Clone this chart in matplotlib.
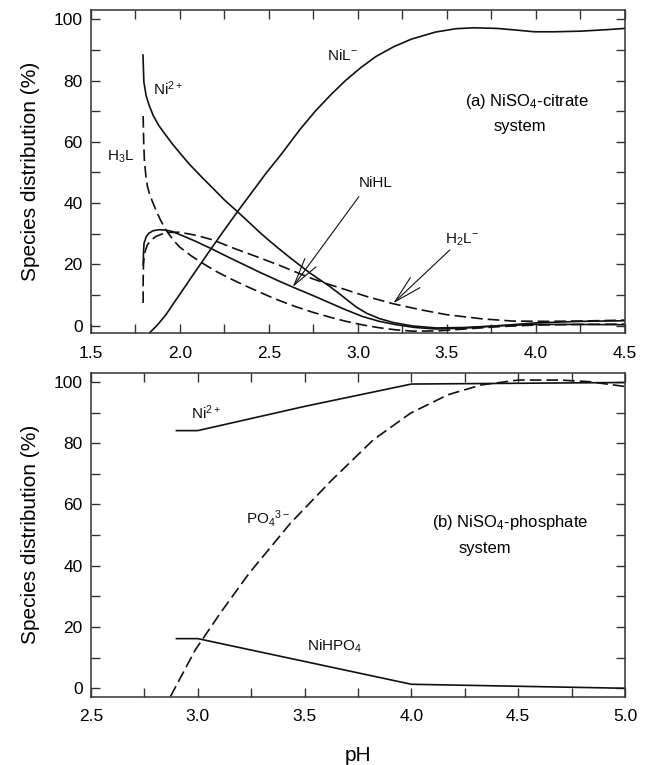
import matplotlib
matplotlib.use('Agg')
import matplotlib.pyplot as plt
from matplotlib.ticker import MultipleLocator

# ---------------- data: (a) NiSO4-citrate system ----------------
ph_ni_a = [1.792, 1.797, 1.81, 1.826, 1.85, 1.882, 1.92, 1.957, 2.0, 2.051, 2.12, 2.182,
           2.25, 2.323, 2.39, 2.445, 2.5, 2.558, 2.62, 2.68, 2.727, 2.78, 2.839, 2.9,
           2.95, 2.99, 3.05, 3.121, 3.2, 3.306, 3.44, 3.6, 3.8, 4.0, 4.25, 4.5]
ni_a = [88.3, 79.5, 75, 72, 68.5, 65.2, 62.2, 59.3, 56.3, 52.8, 48.6, 45,
        41, 37.2, 33.6, 30.6, 27.8, 25, 22.1, 19.4, 17.3, 15.2, 12.9, 10.2,
        7.9, 6.1, 4.0, 2.3, 1.0, -0.1, -0.75, -0.6, 0.0, 0.4, 0.4, 0.3]

ph_nil = [1.826, 1.87, 1.92, 1.97, 2.02, 2.07, 2.126, 2.183, 2.25, 2.323, 2.41, 2.483,
          2.57, 2.671, 2.76, 2.85, 2.93, 3.016, 3.1, 3.2, 3.3, 3.435, 3.55, 3.65, 3.78,
          3.9, 3.99, 4.1, 4.25, 4.4, 4.5]
nil = [-2.5, 0, 3.5, 7.8, 12, 16.3, 21, 25.8, 31.3, 37.2, 44, 49.7,
       56, 63.8, 70, 75.5, 80, 84.2, 87.8, 91, 93.5, 95.8, 96.9, 97.2, 97,
       96.4, 95.9, 95.9, 96.1, 96.6, 97]

ph_nihl = [1.793, 1.795, 1.798, 1.81, 1.826, 1.85, 1.883, 1.92, 1.958, 2.02, 2.089, 2.18,
           2.277, 2.37, 2.445, 2.558, 2.633, 2.74, 2.839, 2.93, 3.025, 3.12, 3.215, 3.32,
           3.44, 3.6, 3.8, 4.0, 4.25, 4.5]
nihl = [19.9, 24, 26.9, 29, 30.2, 31, 31.3, 31.2, 30.7, 29.2, 27.5, 25.0,
        22.2, 19.6, 17.5, 14.5, 12.6, 10, 7.5, 5.2, 3, 1.4, 0.3, -0.6,
        -1.1, -0.8, 0, 0.9, 1.4, 1.6]

ph_h3l = [1.793, 1.796, 1.80, 1.808, 1.817, 1.826, 1.845, 1.864, 1.89, 1.92, 1.955, 1.995,
          2.06, 2.126, 2.2, 2.277, 2.36, 2.445, 2.5, 2.558, 2.65, 2.744, 2.84, 2.933,
          3.03, 3.121, 3.21, 3.306, 3.45, 3.6, 3.8, 4.0, 4.25, 4.5]
h3l = [68.4, 60, 54, 49, 45.5, 43.5, 40.5, 37.8, 34.5, 31.3, 28.5, 25.8,
       22.9, 20.4, 17.8, 15.5, 13.2, 11.0, 9.6, 8.2, 6.2, 4.4, 2.8, 1.4,
       0.2, -0.7, -1.35, -1.8, -1.7, -1.1, -0.3, 0.2, 0.4, 0.5]

ph_h2l = [1.793, 1.793, 1.795, 1.80, 1.817, 1.84, 1.864, 1.92, 1.995, 2.09, 2.183, 2.3,
          2.445, 2.558, 2.65, 2.745, 2.84, 2.933, 3.05, 3.194, 3.35, 3.496, 3.7, 3.869,
          4.05, 4.246, 4.5]
h2l = [7.4, 15, 20, 23.5, 26.4, 28, 29.1, 30.4, 30.5, 29.5, 28, 25.3,
       22.2, 19.7, 17.5, 15.3, 13.4, 11.7, 9.5, 7.2, 5.2, 3.6, 2.2, 1.5,
       1.4, 1.5, 1.8]

# ---------------- data: (b) NiSO4-phosphate system ----------------
ph_ni_b = [2.9, 3.0, 3.5, 4.0, 5.0]
ni_b = [84.1, 84.1, 92.0, 99.3, 99.8]

ph_nihpo4 = [2.9, 3.0, 4.0, 5.0]
nihpo4 = [16.2, 16.2, 1.3, 0.0]

ph_po4 = [2.872, 2.988, 3.105, 3.24, 3.434, 3.628, 3.822, 3.996, 4.171, 4.326, 4.5,
          4.694, 4.829, 5.0]
po4 = [-2.7, 12.5, 24.5, 37.5, 53.9, 68.0, 81.1, 89.8, 95.8, 99.0, 100.6,
       100.6, 100.1, 98.5]

# ---------------- style ----------------
plt.rcParams['font.family'] = ['Liberation Sans', 'DejaVu Sans']
plt.rcParams['mathtext.fontset'] = 'custom'
plt.rcParams['mathtext.rm'] = 'Liberation Sans'
plt.rcParams['mathtext.it'] = 'Liberation Sans:italic'
plt.rcParams['mathtext.bf'] = 'Liberation Sans:bold'
plt.rcParams['mathtext.default'] = 'regular'

ink = '#111111'
frame = '#333333'
solid = dict(color=ink, lw=1.2, solid_joinstyle='round')
dashed = dict(color=ink, lw=1.2, dashes=(7, 3))

fig = plt.figure(figsize=(6.5, 7.65), dpi=100)
ax1 = fig.add_axes([0.140, 0.5643, 0.8215, 0.4226])
ax2 = fig.add_axes([0.140, 0.0893, 0.8215, 0.4231])

for ax in (ax1, ax2):
    ax.xaxis.set_major_locator(MultipleLocator(0.5))
    ax.xaxis.set_minor_locator(MultipleLocator(0.25))
    ax.yaxis.set_major_locator(MultipleLocator(20))
    ax.yaxis.set_minor_locator(MultipleLocator(10))
    ax.tick_params(which='both', direction='in', top=True, right=True,
                   length=6.5, width=1.0, color=frame, labelsize=12.5)
    ax.tick_params(axis='y', pad=6)
    ax.tick_params(axis='x', pad=9)
    for s in ax.spines.values():
        s.set_color(frame)
        s.set_linewidth(1.1)
    ax.set_ylabel('Species distribution (%)', fontsize=15, labelpad=10)

# ---- panel (a)
ax1.set_xlim(1.5, 4.5)
ax1.set_ylim(-2.5, 103)
ax1.plot(ph_ni_a, ni_a, **solid)
ax1.plot(ph_nil, nil, **solid)
ax1.plot(ph_nihl, nihl, **solid)
ax1.plot(ph_h3l, h3l, **dashed)
ax1.plot(ph_h2l, h2l, **dashed)

lab = dict(fontsize=11, ha='center', va='center', color=ink)
ax1.text(2.912, 88.3, r'NiL$^{-}$', **lab)
ax1.text(1.935, 77.4, r'Ni$^{2+}$', **lab)
ax1.text(1.667, 55.1, r'H$_3$L', **lab)
ax1.text(3.098, 46.6, 'NiHL', **lab)
ax1.text(3.586, 27.9, r'H$_2$L$^{-}$', **lab)
ax1.text(3.951, 73.0, r'(a) NiSO$_4$-citrate', fontsize=12, ha='center', va='center')
ax1.text(3.912, 64.9, 'system', fontsize=12, ha='center', va='center')

arr = dict(arrowstyle='->,head_length=2.0,head_width=0.5', lw=0.8, color=ink,
           shrinkA=0, shrinkB=0)
ax1.annotate('', xy=(2.633, 12.6), xytext=(3.005, 42.1), arrowprops=arr)
ax1.annotate('', xy=(3.198, 7.3), xytext=(3.516, 24.7), arrowprops=arr)

# ---- panel (b)
ax2.set_xlim(2.5, 5.0)
ax2.set_ylim(-2.75, 102.9)
ax2.plot(ph_ni_b, ni_b, **solid)
ax2.plot(ph_nihpo4, nihpo4, **solid)
ax2.plot(ph_po4, po4, **dashed)

ax2.text(3.037, 89.8, r'Ni$^{2+}$', **lab)
ax2.text(3.327, 55.5, r'PO$_4$$^{3-}$', **lab)
ax2.text(3.638, 13.6, r'NiHPO$_4$', **lab)
ax2.text(4.461, 54.1, r'(b) NiSO$_4$-phosphate', fontsize=12, ha='center', va='center')
ax2.text(4.345, 45.7, 'system', fontsize=12, ha='center', va='center')
ax2.set_xlabel('pH', fontsize=15, labelpad=16)

fig.savefig('out.png', dpi=100)
